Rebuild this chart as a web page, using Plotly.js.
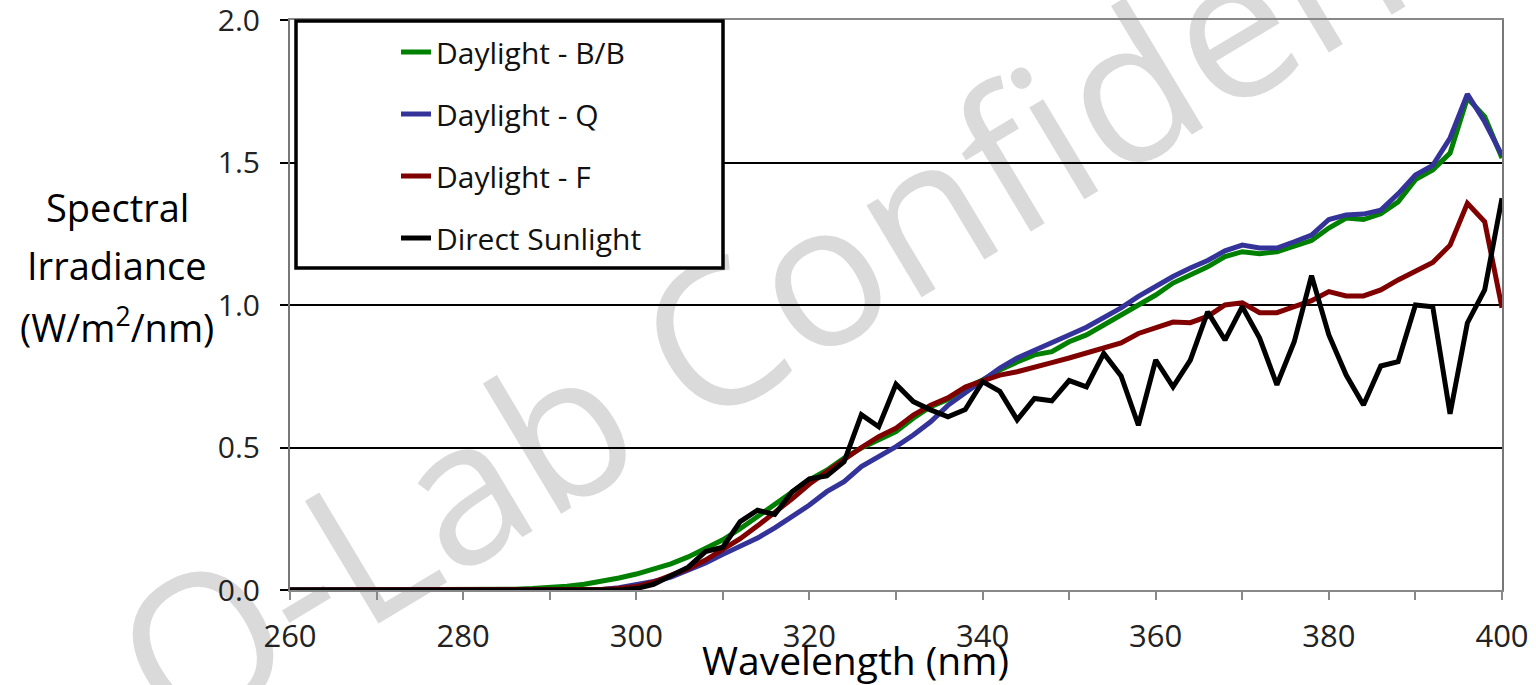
<!DOCTYPE html>
<html>
<head>
<meta charset="utf-8">
<script src="https://cdn.plot.ly/plotly-3.0.1.min.js"></script>
<style>html,body{margin:0;padding:0;background:#fff;}#chart{width:1536px;height:685px;}</style>
</head>
<body>
<div id="chart"></div>
<script>
const wavelength = [260,262,264,266,268,270,272,274,276,278,280,282,284,286,288,290,292,294,296,298,300,302,304,306,308,310,312,314,316,318,320,322,324,326,328,330,332,334,336,338,340,342,344,346,348,350,352,354,356,358,360,362,364,366,368,370,372,374,376,378,380,382,384,386,388,390,392,394,396,398,400];

const daylightBB = [0,0,0,0,0,0,0,0,0,0,0.001,0.001,0.002,0.003,0.005,0.008,0.013,0.02,0.029,0.042,0.056,0.072,0.092,0.116,0.145,0.176,0.215,0.258,0.298,0.342,0.386,0.42,0.463,0.498,0.526,0.556,0.603,0.643,0.668,0.709,0.737,0.772,0.80,0.825,0.836,0.871,0.895,0.93,0.963,1.0,1.035,1.077,1.105,1.134,1.17,1.187,1.18,1.187,1.207,1.226,1.27,1.305,1.30,1.32,1.362,1.44,1.474,1.533,1.726,1.661,1.516];

const daylightQ = [0,0,0,0,0,0,0,0,0,0,0,0,0,0,0,0,0,0,0.002,0.008,0.018,0.03,0.045,0.068,0.095,0.125,0.152,0.182,0.218,0.257,0.298,0.345,0.38,0.433,0.468,0.503,0.544,0.59,0.648,0.692,0.735,0.779,0.814,0.842,0.871,0.895,0.922,0.956,0.99,1.03,1.067,1.10,1.13,1.156,1.19,1.21,1.20,1.20,1.222,1.245,1.30,1.316,1.319,1.333,1.39,1.456,1.49,1.586,1.74,1.643,1.525];

const daylightF = [0,0,0,0,0,0,0,0,0,0,0,0,0,0,0,0,0,0,0.002,0.005,0.012,0.028,0.05,0.075,0.105,0.14,0.18,0.225,0.27,0.32,0.372,0.415,0.456,0.50,0.538,0.568,0.614,0.648,0.674,0.712,0.734,0.754,0.766,0.784,0.798,0.814,0.833,0.85,0.867,0.90,0.92,0.94,0.938,0.96,1.0,1.008,0.973,0.973,0.994,1.015,1.047,1.032,1.032,1.053,1.088,1.117,1.149,1.21,1.357,1.292,0.99];

const directSunlight = [0,0,0,0,0,0,0,0,0,0,0,0,0,0,0,0,0,0,0,0,0.005,0.02,0.05,0.08,0.135,0.15,0.24,0.28,0.265,0.345,0.39,0.40,0.45,0.615,0.573,0.722,0.661,0.632,0.608,0.633,0.731,0.697,0.597,0.672,0.664,0.735,0.713,0.83,0.751,0.578,0.807,0.713,0.807,0.976,0.877,0.994,0.884,0.72,0.871,1.103,0.895,0.754,0.649,0.786,0.801,1.0,0.994,0.618,0.937,1.053,1.375];

const seriesNames = ['Daylight - B/B','Daylight - Q','Daylight - F','Direct Sunlight'];
const seriesColors = ['#008000','#333399','#800000','#000000'];
const seriesValues = [daylightBB, daylightQ, daylightF, directSunlight];

const xTickVals = [260,280,300,320,340,360,380,400];
const xTickText = ['260','280','300','320','340','360','380','400'];
const xMinorTickVals = [270,290,310,330,350,370,390];
const yTickVals = [0,0.5,1.0,1.5,2.0];

const xTitle = 'Wavelength (nm)';
const yTitleLines = ['Spectral','Irradiance','(W/m<sup>2</sup>/nm)'];
const watermark = 'Q-Lab Confidential';

const FONT = 'Open Sans, Noto Sans, sans-serif';

const traces = seriesValues.map((vals, i) => ({
  type: 'scatter', mode: 'lines',
  x: wavelength, y: vals,
  name: seriesNames[i], legendgroup: 'g' + i,
  line: {color: seriesColors[i], width: 5}
}));

const L = 290, R = 34, T = 20, B = 95, W = 1536, H = 685;
const pw = W - L - R, ph = H - T - B;
const px2x = p => (p - L) / pw;
const px2y = p => (H - B - p) / ph;

const yTitleY = [207, 265, 325];
const annotations = yTitleLines.map((t, i) => ({
  text: t, xref: 'paper', yref: 'paper', x: px2x(117), y: px2y(yTitleY[i]),
  xanchor: 'center', yanchor: 'middle', showarrow: false,
  font: {family: FONT, size: 38, color: '#000'}
}));
annotations.push({
  text: xTitle, xref: 'paper', yref: 'paper', x: px2x(855), y: px2y(659),
  xanchor: 'center', yanchor: 'middle', showarrow: false,
  font: {family: FONT, size: 39, color: '#000'}
});

const layout = {
  width: W, height: H,
  margin: {l: L, r: R, t: T, b: B},
  paper_bgcolor: '#ffffff', plot_bgcolor: 'rgba(0,0,0,0)',
  showlegend: true,
  legend: {
    x: px2x(396), y: px2y(26), xanchor: 'left', yanchor: 'top',
    bgcolor: 'rgba(0,0,0,0)', borderwidth: 0,
    font: {family: FONT, size: 30, color: '#111'},
    tracegroupgap: 20, traceorder: 'grouped'
  },
  xaxis: {
    range: [260, 400], tickmode: 'array', tickvals: xTickVals, ticktext: xTickText,
    ticks: 'outside', ticklen: 8, tickwidth: 2, tickcolor: '#888',
    minor: {tickmode: 'array', tickvals: xMinorTickVals, ticks: 'outside', ticklen: 8, tickwidth: 2, tickcolor: '#888', showgrid: false},
    showgrid: false, zeroline: false,
    showline: true, linecolor: '#888', linewidth: 2, mirror: true,
    tickfont: {family: FONT, size: 31, color: '#222'}, ticklabelstandoff: 10,
    ticklabeloverflow: 'allow'
  },
  yaxis: {
    range: [0, 2], tickmode: 'array', tickvals: yTickVals, tickformat: '.1f',
    ticks: 'outside', ticklen: 8, tickwidth: 2, tickcolor: '#000',
    showgrid: true, gridcolor: '#000', gridwidth: 2, zeroline: false,
    showline: true, linecolor: '#777', linewidth: 2, mirror: true,
    tickfont: {family: FONT, size: 30, color: '#222'}, ticklabelstandoff: 14,
    ticklabeloverflow: 'allow'
  },
  shapes: [
    {
      type: 'rect', xref: 'paper', yref: 'paper', layer: 'below',
      x0: px2x(665), x1: px2x(1105), y0: px2y(360), y1: px2y(130),
      line: {width: 0}, fillcolor: 'rgba(0,0,0,0)',
      label: {text: watermark, textangle: -31, textposition: 'middle center',
              font: {family: FONT, size: 200, color: '#dadada'}}
    },
    {
      type: 'rect', xref: 'paper', yref: 'paper', layer: 'above',
      x0: px2x(296), x1: px2x(723), y0: px2y(268), y1: px2y(21),
      line: {color: '#000', width: 3.5}, fillcolor: '#ffffff'
    }
  ],
  annotations: annotations
};

Plotly.newPlot('chart', traces, layout, {displayModeBar: false, staticPlot: true});
</script>
</body>
</html>
